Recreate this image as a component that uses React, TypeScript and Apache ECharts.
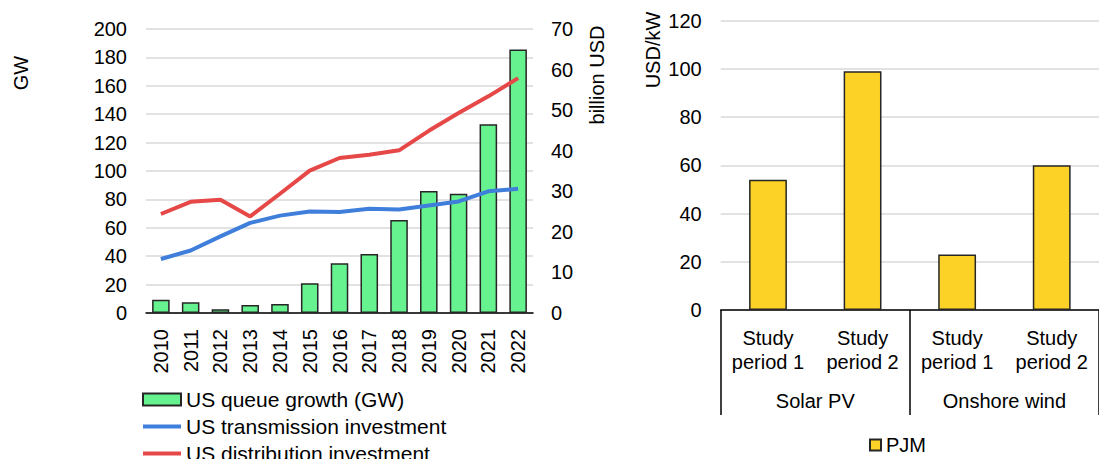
import React, { useEffect, useRef } from "react";
import * as echarts from "echarts";

const years = ["2010","2011","2012","2013","2014","2015","2016","2017","2018","2019","2020","2021","2022"];
const queueGrowthGW = [9.3, 7.6, 2.7, 5.7, 6.4, 21, 35, 41.5, 65.5, 86, 84, 133, 185.5];
const transmissionInv = [13.3, 15.4, 18.9, 22.2, 24, 25, 24.9, 25.7, 25.5, 26.5, 27.5, 30, 30.6];
const distributionInv = [24.4, 27.4, 27.9, 23.8, 29.4, 35.1, 38.2, 39, 40.1, 44.9, 49.3, 53.4, 57.9];

const studyCategories = ["Study\nperiod 1", "Study\nperiod 2", "Study\nperiod 1", "Study\nperiod 2"];
const techGroups = ["Solar PV", "Onshore wind"];
const pjmValues = [54, 99, 23, 60];

const FONT = "Liberation Sans, Arial, sans-serif";
const GRID_COLOR = "#d9d9d9";
const LINE_ICON = "path://M0,0 M0,4 L38,4 L38,8 L0,8 Z M38,12";

export default function App() {
  const ref = useRef<HTMLDivElement>(null);
  useEffect(() => {
    document.body.style.margin = "0";
    const chart = echarts.init(ref.current!, null, { renderer: "svg" });
    const txt = { fontFamily: FONT, fontSize: 20, color: "#000" };
    chart.setOption({
      animation: false,
      textStyle: { fontFamily: FONT },
      grid: [
        { left: 146, top: 29, width: 387, height: 284 },
        { left: 720.7, top: 20.7, width: 389.6, height: 289.3 },
      ],
      xAxis: [
        {
          type: "category", gridIndex: 0, data: years,
          axisLine: { lineStyle: { color: "#000", width: 1.5 } },
          axisTick: { show: false },
          axisLabel: { ...txt, rotate: 90, margin: 16 },
        },
        {
          type: "category", gridIndex: 1, data: studyCategories,
          axisLine: { lineStyle: { color: "#000", width: 1.5 } },
          axisTick: { show: false },
          axisLabel: { ...txt, margin: 16, lineHeight: 24, interval: 0 },
        },
        {
          type: "category", gridIndex: 1, data: techGroups, position: "bottom",
          axisLine: { show: false },
          axisTick: { show: true, length: 105, lineStyle: { color: "#000", width: 1.5 } },
          axisLabel: { ...txt, margin: 81, interval: 0 },
        },
      ],
      yAxis: [
        {
          type: "value", gridIndex: 0, min: 0, max: 200, interval: 20,
          axisLine: { show: false }, axisTick: { show: false },
          axisLabel: { ...txt, margin: 19 },
          splitLine: { lineStyle: { color: GRID_COLOR, width: 1.5 } },
        },
        {
          type: "value", gridIndex: 0, min: 0, max: 70, interval: 10, position: "right",
          axisLine: { show: false }, axisTick: { show: false },
          axisLabel: { ...txt, margin: 18 },
          splitLine: { show: false },
        },
        {
          type: "value", gridIndex: 1, min: 0, max: 120, interval: 20,
          axisLine: { show: false }, axisTick: { show: false },
          axisLabel: { ...txt, margin: 19 },
          splitLine: { lineStyle: { color: GRID_COLOR, width: 1.5 } },
        },
      ],
      legend: [
        {
          orient: "vertical", left: 137, top: 384, height: 200, itemWidth: 38, itemHeight: 12, itemGap: 6,
          textStyle: { ...txt, fontSize: 21, lineHeight: 21 },
          data: [
            { name: "US queue growth (GW)", icon: "rect" },
            { name: "US transmission investment", icon: LINE_ICON },
            { name: "US distribution investment", icon: LINE_ICON },
          ],
        },
        {
          left: 864, top: 430, itemWidth: 11, itemHeight: 11,
          textStyle: { ...txt, lineHeight: 20 },
          data: [{ name: "PJM", icon: "rect" }],
        },
      ],
      graphic: [
        { type: "text", x: 20.5, y: 73, rotation: Math.PI / 2, style: { text: "GW", font: `20px ${FONT}`, fill: "#000", textAlign: "center", textVerticalAlign: "middle" } },
        { type: "text", x: 597, y: 75, rotation: Math.PI / 2, style: { text: "billion USD", font: `20px ${FONT}`, fill: "#000", textAlign: "center", textVerticalAlign: "middle" } },
        { type: "text", x: 653, y: 50, rotation: Math.PI / 2, style: { text: "USD/kW", font: `20px ${FONT}`, fill: "#000", textAlign: "center", textVerticalAlign: "middle" } },
      ],
      series: [
        {
          name: "US queue growth (GW)", type: "bar", xAxisIndex: 0, yAxisIndex: 0,
          data: queueGrowthGW, barWidth: "59%",
          itemStyle: { color: "#66f28f", borderColor: "#262626", borderWidth: 1.5 },
          z: 2,
        },
        {
          name: "US transmission investment", type: "line", xAxisIndex: 0, yAxisIndex: 1,
          data: transmissionInv, symbol: "none",
          lineStyle: { color: "#3f7fdb", width: 4 }, itemStyle: { color: "#3f7fdb" },
          z: 3,
        },
        {
          name: "US distribution investment", type: "line", xAxisIndex: 0, yAxisIndex: 1,
          data: distributionInv, symbol: "none",
          lineStyle: { color: "#e64848", width: 4 }, itemStyle: { color: "#e64848" },
          z: 4,
        },
        {
          name: "PJM", type: "bar", xAxisIndex: 1, yAxisIndex: 2,
          data: pjmValues, barWidth: "40%",
          itemStyle: { color: "#fcd226", borderColor: "#262626", borderWidth: 1.5 },
        },
      ],
    });
    return () => chart.dispose();
  }, []);
  return <div ref={ref} style={{ width: 1099, height: 459 }} />;
}
